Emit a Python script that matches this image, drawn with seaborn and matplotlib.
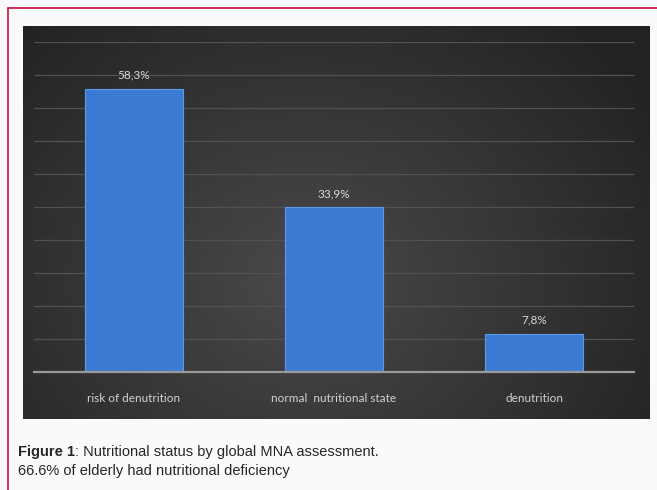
import numpy as np
import pandas as pd
import matplotlib
matplotlib.use("Agg")
import matplotlib.pyplot as plt
import seaborn as sns
from matplotlib.lines import Line2D

categories = ["risk of denutrition", "normal  nutritional state", "denutrition"]
values = [58.3, 33.9, 7.8]
value_labels = ["58,3%", "33,9%", "7,8%"]
caption_bold = "Figure 1"
caption_rest = ": Nutritional status by global MNA assessment."
caption_line2 = "66.6% of elderly had nutritional deficiency"

sns.set_theme(style="dark")
plt.rcParams["font.family"] = ["Lato", "DejaVu Sans"]

W, H = 657, 490
fig = plt.figure(figsize=(W / 100, H / 100), dpi=100)
fig.patch.set_facecolor("#fcf9fa")

# red frame (top and left visible)
fig.add_artist(Line2D([8 / W, 1.0], [1 - 8 / H, 1 - 8 / H], color="#c4123e", lw=1.2, transform=fig.transFigure))
fig.add_artist(Line2D([8 / W, 8 / W], [0, 1 - 8 / H], color="#c4123e", lw=1.2, transform=fig.transFigure))

# dark gradient panel
px0, px1, py0, py1 = 23, 650, 26, 419
bg = fig.add_axes([px0 / W, 1 - py1 / H, (px1 - px0) / W, (py1 - py0) / H])
xx, yy = np.meshgrid(np.linspace(-1, 1, 300), np.linspace(-1, 1, 200))
r = np.sqrt(((xx + 0.1) / 1.1) ** 2 + ((yy + 0.3) / 1.5) ** 2)
g = 0.29 - 0.13 * np.clip(r, 0, 1.2)
bg.imshow(np.dstack([g, g, g]), aspect="auto", extent=[0, 1, 0, 1], origin="lower")
bg.set_axis_off()

df = pd.DataFrame({"category": categories, "value": values})
ax = fig.add_axes([34 / W, 1 - 372 / H, 600 / W, 330 / H])
ax.set_facecolor("none")
sns.barplot(data=df, x="category", y="value", width=0.49, color="#3b7bd4",
            saturation=1, edgecolor="#5d9ce8", linewidth=0.8, ax=ax)
ax.set_xlim(-0.5, 2.5)
ax.set_ylim(0, 68)
ax.set_yticks(np.linspace(0, 68, 11))
ax.set_yticklabels([])
ax.grid(axis="y", color="#515151", lw=0.9)
ax.grid(axis="x", visible=False)
ax.set_axisbelow(True)
for s in ["top", "right", "left"]:
    ax.spines[s].set_visible(False)
ax.spines["bottom"].set_color("#9a9a9a")
ax.spines["bottom"].set_linewidth(1.6)
ax.tick_params(axis="both", length=0)
ax.tick_params(axis="x", colors="#d2d2d2", labelsize=8.5, pad=15)
ax.tick_params(axis="y", left=False)
ax.set_xlabel("")
ax.set_ylabel("")
ax.bar_label(ax.containers[0], labels=value_labels, padding=6, color="#d8d8d8", fontsize=8.5)

t1 = fig.text(18 / W, 1 - 456 / H, caption_bold, fontsize=10.5, fontweight="bold",
              color="#262626", family=["Liberation Sans", "DejaVu Sans"])
fig.canvas.draw()
bb = t1.get_window_extent()
fig.text(bb.x1 / W, 1 - 456 / H, caption_rest, fontsize=10.5, color="#262626",
         family=["Liberation Sans", "DejaVu Sans"])
fig.text(18 / W, 1 - 475 / H, caption_line2, fontsize=10.5, color="#262626",
         family=["Liberation Sans", "DejaVu Sans"])

fig.savefig("out.png", dpi=100, facecolor=fig.get_facecolor())
